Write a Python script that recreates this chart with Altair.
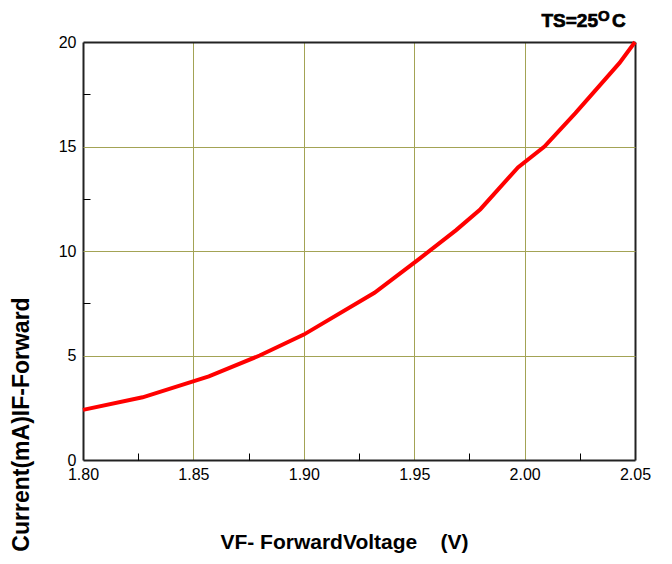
import altair as alt
import pandas as pd

vf = [1.800, 1.827, 1.857, 1.880, 1.900, 1.932, 1.952, 1.969, 1.980, 1.997, 2.009, 2.023, 2.043, 2.050]
i_f = [2.40, 3.00, 4.00, 5.00, 6.00, 8.00, 9.60, 11.00, 12.00, 14.00, 15.00, 16.60, 19.00, 20.00]

x_major = [1.80, 1.85, 1.90, 1.95, 2.00, 2.05]
x_minor = [1.825, 1.875, 1.925, 1.975, 2.025]
y_major = [0, 5, 10, 15, 20]
y_minor = [2.5, 7.5, 12.5, 17.5]

df = pd.DataFrame({"vf": vf, "current": i_f})
one = pd.DataFrame({"k": [0]})

W, H = 552, 418
GRID = "#a3a355"
FRAME = "#222222"
FONT = "Liberation Sans"

xscale = alt.Scale(domain=[1.80, 2.05], nice=False, zero=False)
yscale = alt.Scale(domain=[0, 20], nice=False)

x_edge = "datum.value <= 1.8001 || datum.value >= 2.0499"
y_edge = "datum.value <= 0.001 || datum.value >= 19.999"

base = alt.Chart(df)

line = base.mark_line(color="#ff0000", strokeWidth=4).encode(
    x=alt.X("vf:Q", scale=xscale, axis=alt.Axis(
        values=x_major, format=".2f", grid=True,
        gridColor={"condition": {"test": x_edge, "value": FRAME}, "value": GRID},
        gridWidth={"condition": {"test": x_edge, "value": 2}, "value": 1},
        ticks=False, domain=False, labelFontSize=16, labelFont=FONT, labelColor="#000",
        labelPadding=6, labelFlush=False,
        title="VF- ForwardVoltage\u00a0\u00a0\u00a0\u00a0(V)", titleFont=FONT, titleFontSize=21,
        titleFontWeight="bold",
        titleColor="#000", titleX=261, titleY=88, titleBaseline="alphabetic", titleAlign="center")),
    y=alt.Y("current:Q", scale=yscale, axis=alt.Axis(
        values=y_major, grid=True,
        gridColor={"condition": {"test": y_edge, "value": FRAME}, "value": GRID},
        gridWidth={"condition": {"test": y_edge, "value": 2}, "value": 1},
        ticks=False, domain=False, labelFontSize=16, labelFont=FONT, labelColor="#000",
        labelPadding=7, labelFlush=False,
        title="Current(mA)IF-Forward", titleFont=FONT, titleFontSize=23, titleFontWeight="bold",
        titleColor="#000", titleX=-50, titleY=382, titleAngle=270, titleBaseline="bottom", titleAlign="center")),
)

minor = base.mark_point(opacity=0).encode(
    x=alt.X("vf:Q", scale=xscale, axis=alt.Axis(
        orient="top", offset=-H, values=x_minor, labels=False, grid=False, domain=False,
        ticks=True, tickSize=7, tickColor="#000", tickWidth=1, title=None)),
    y=alt.Y("current:Q", scale=yscale, axis=alt.Axis(
        orient="right", offset=-W, values=y_minor, labels=False, grid=False, domain=False,
        ticks=True, tickSize=7, tickColor="#000", tickWidth=1, title=None)),
)

tb = alt.Chart(one)
t1 = tb.mark_text(text="TS=25", font=FONT, fontSize=19, fontWeight="bold", align="right",
                  baseline="alphabetic", color="#000", stroke="#000", strokeWidth=0.7,
                  clip=False).encode(x=alt.value(515), y=alt.value(-15))
t2 = tb.mark_text(text="O", font=FONT, fontSize=15, fontWeight="bold", align="left",
                  baseline="alphabetic", color="#000", stroke="#000", strokeWidth=0.7,
                  clip=False).encode(x=alt.value(515), y=alt.value(-21))
t3 = tb.mark_text(text="C", font=FONT, fontSize=19, fontWeight="bold", align="left",
                  baseline="alphabetic", color="#000", stroke="#000", strokeWidth=0.7,
                  clip=False).encode(x=alt.value(529), y=alt.value(-15))

chart = alt.layer(line, minor, t1, t2, t3).resolve_axis(
    x="independent", y="independent"
).properties(
    width=W, height=H,
    autosize=alt.AutoSizeParams(type="none"),
    padding={"left": 75, "top": 34, "right": 29, "bottom": 96},
).configure_view(stroke=FRAME, strokeWidth=2).configure(background="white")

chart.save("out.html", embed_options={"renderer": "svg", "actions": False})
